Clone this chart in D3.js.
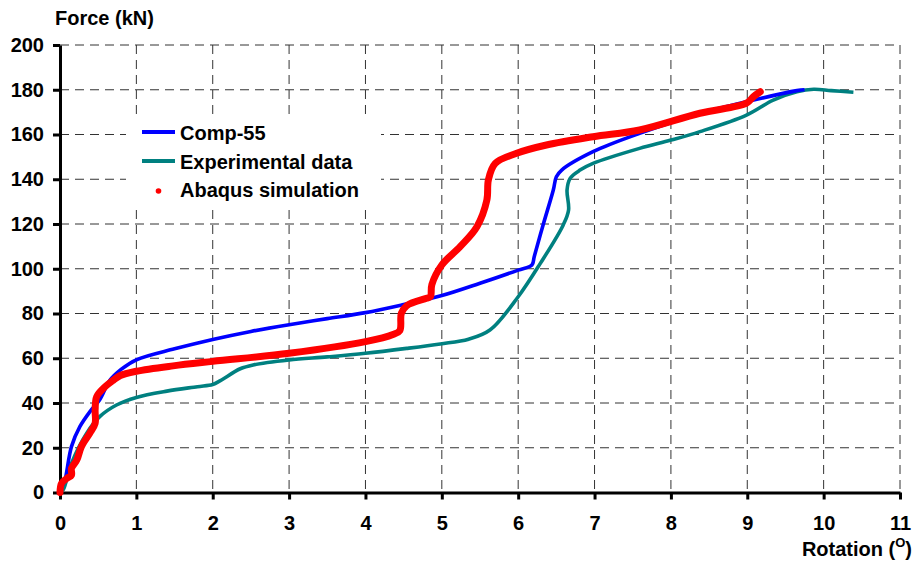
<!DOCTYPE html>
<html>
<head>
<meta charset="utf-8">
<script src="https://cdn.jsdelivr.net/npm/d3@7/dist/d3.min.js"></script>
<style>
  html, body { margin: 0; padding: 0; background: #fff; }
  svg text { font-family: "Liberation Sans", Arial, Helvetica, sans-serif; font-weight: bold; fill: #000; }
</style>
</head>
<body>
<svg id="chart" width="916" height="564"></svg>
<script>
// Rotation (degrees) vs force (kN) for each series, as [rotation, force] pairs
const comp55 = [
  [0, 0], [0.03, 3], [0.065, 5.6], [0.15, 20.5], [0.26, 29.4], [0.40, 36.5], [0.52, 41.5],
  [0.65, 50], [0.8, 55], [1.0, 59.3], [1.5, 64.2], [2.0, 68.4], [2.5, 72], [3.0, 75],
  [3.5, 77.7], [4.0, 80.4], [4.5, 84], [5.0, 88], [5.5, 93.5],
  [6.0, 99.4], [6.18, 101.7], [6.21, 105.4], [6.33, 120], [6.46, 135.2], [6.5, 141.1],
  [6.57, 144.1], [6.98, 152.3], [7.59, 160.5], [8.3, 168.5], [9.0, 174.7], [9.65, 179.6], [9.75, 180]
];
const experimental = [
  [0, 0], [0.04, 1.1], [0.15, 13], [0.35, 26.5], [0.52, 33.9], [0.74, 39.1], [1.0, 42.5],
  [1.4, 45.3], [1.8, 47.3], [2.0, 48.3], [2.1, 50], [2.36, 55.3], [2.53, 57], [3.0, 59.2],
  [3.5, 60.6], [4.0, 62.2], [4.54, 64.4], [4.98, 66.4], [5.35, 68.5], [5.63, 72.6],
  [6.0, 87.5], [6.29, 102.4], [6.59, 119.6], [6.66, 126.3], [6.64, 135.2], [6.68, 140.4],
  [6.81, 144.1], [6.98, 147.1], [7.59, 153.8], [8.0, 157.5], [8.38, 161.3], [8.99, 168.7],
  [9.34, 175.4], [9.65, 179.1], [9.87, 180.2], [10.1, 179.6], [10.39, 178.9]
];
const abaqus = [
  [0, 0], [0.02, 4.1], [0.09, 6.3], [0.15, 7.8], [0.15, 10.8], [0.22, 14.5], [0.28, 20.5],
  [0.39, 26.5], [0.46, 30.9], [0.46, 36.9], [0.48, 42.8], [0.57, 46.6], [0.70, 50.2],
  [0.79, 52.3], [1.0, 54.2], [1.48, 56.6], [2.0, 58.6], [3.0, 62.2], [4.0, 67.4],
  [4.36, 70.6], [4.45, 72.4], [4.47, 80.1], [4.54, 83.5], [4.8, 86.8], [4.85, 87.5],
  [4.87, 93], [5.0, 101.7], [5.24, 109.9], [5.46, 118.8], [5.59, 130.7], [5.61, 139.7],
  [5.70, 147.1], [5.98, 151.6], [6.37, 155.3], [6.98, 159], [7.59, 162], [8.38, 169.5],
  [8.99, 174], [9.08, 176.9], [9.17, 179.1]
];
const seriesNames = ["Comp-55", "Experimental data", "Abaqus simulation"];
const xTicks = [0, 1, 2, 3, 4, 5, 6, 7, 8, 9, 10, 11];
const yTicks = [0, 20, 40, 60, 80, 100, 120, 140, 160, 180, 200];

const svg = d3.select("#chart");
const x = d3.scaleLinear().domain([0, 11]).range([60, 900]);
const y = d3.scaleLinear().domain([0, 200]).range([492.5, 45]);

// dashed grid
const grid = svg.append("g").attr("stroke", "#333").attr("stroke-width", 1)
  .attr("stroke-dasharray", "9,6").attr("fill", "none");
grid.selectAll(".vg").data(xTicks.filter(d => d > 0)).join("line")
  .attr("x1", d => x(d)).attr("x2", d => x(d))
  .attr("y1", y(200)).attr("y2", y(0));
grid.selectAll(".hg").data(yTicks.filter(d => d > 0)).join("line")
  .attr("x1", x(0)).attr("x2", x(11))
  .attr("y1", d => y(d)).attr("y2", d => y(d));

// legend background hides the grid behind it
svg.append("rect").attr("x", 126).attr("y", 118).attr("width", 255).attr("height", 88).attr("fill", "#fff");

// axes
const fontSize = 20;
const xAxis = svg.append("g").attr("transform", `translate(0,${y(0)})`)
  .call(d3.axisBottom(x).tickValues(xTicks).tickSizeInner(7).tickSizeOuter(0).tickPadding(17));
const yAxis = svg.append("g").attr("transform", `translate(${x(0)},0)`)
  .call(d3.axisLeft(y).tickValues(yTicks).tickSizeInner(7).tickSizeOuter(0).tickPadding(9));
[xAxis, yAxis].forEach(a => {
  a.attr("font-family", null).attr("font-size", null);
  a.select(".domain").attr("stroke", "#000").attr("stroke-width", 3);
  a.selectAll(".tick line").attr("stroke", "#000").attr("stroke-width", 3);
  a.selectAll(".tick text").style("font-size", fontSize + "px");
});
xAxis.selectAll(".tick text").attr("dy", "0.66em");

// curves
const line = d3.line().x(d => x(d[0])).y(d => y(d[1])).curve(d3.curveCatmullRom.alpha(0.5));
svg.append("path").datum(experimental).attr("d", line)
  .attr("fill", "none").attr("stroke", "#008080").attr("stroke-width", 3.6).attr("stroke-linejoin", "round");
svg.append("path").datum(comp55).attr("d", line)
  .attr("fill", "none").attr("stroke", "#0000ff").attr("stroke-width", 3.6).attr("stroke-linejoin", "round");
svg.append("path").datum(abaqus).attr("d", line)
  .attr("fill", "none").attr("stroke", "#ff0000").attr("stroke-width", 7)
  .attr("stroke-linejoin", "round").attr("stroke-linecap", "round");

// legend entries
const lg = svg.append("g");
lg.append("line").attr("x1", 142).attr("x2", 175).attr("y1", 132).attr("y2", 132)
  .attr("stroke", "#0000ff").attr("stroke-width", 3.8);
lg.append("line").attr("x1", 142).attr("x2", 175).attr("y1", 161).attr("y2", 161)
  .attr("stroke", "#008080").attr("stroke-width", 3.8);
lg.append("circle").attr("cx", 158.5).attr("cy", 191).attr("r", 2.8).attr("fill", "#ff0000");
lg.selectAll("text").data(seriesNames).join("text")
  .attr("x", 180).attr("y", (d, i) => 140 + i * 28.5)
  .style("font-size", fontSize + "px").text(d => d);

// axis titles
svg.append("text").attr("x", 55).attr("y", 25).style("font-size", fontSize + "px").text("Force (kN)");
const xt = svg.append("text").attr("x", 912).attr("y", 556).attr("text-anchor", "end").style("font-size", fontSize + "px");
xt.append("tspan").text("Rotation (");
xt.append("tspan").attr("dy", -9).style("font-size", "13px").text("O");
xt.append("tspan").attr("dy", 9).text(")");
</script>
</body>
</html>
